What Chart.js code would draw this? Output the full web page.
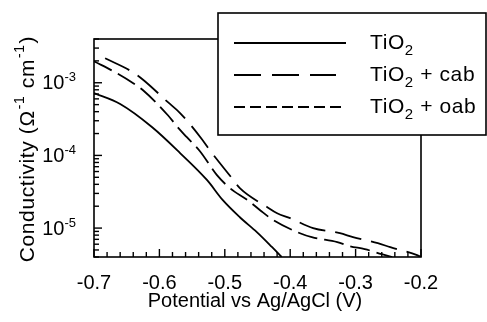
<!DOCTYPE html>
<html>
<head>
<meta charset="utf-8">
<script src="https://cdn.jsdelivr.net/npm/chart.js@4.4.1/dist/chart.umd.min.js"></script>
<style>
html,body{margin:0;padding:0;background:#fff;}
#wrap{width:487px;height:322px;position:relative;}
</style>
</head>
<body>
<div id="wrap"><canvas id="c" width="487" height="322"></canvas></div>
<script>
// ---- data (potential in V, conductivity in ohm^-1 cm^-1) ----
const seriesNames = ['TiO2', 'TiO2 + cab', 'TiO2 + oab'];

const tio2X = [-0.70, -0.66, -0.611, -0.568, -0.527, -0.503, -0.477, -0.451, -0.428, -0.413];
const tio2Y = [7.2e-4, 5.1e-4, 2.44e-4, 1.07e-4, 4.56e-5, 2.42e-5, 1.41e-5, 8.8e-6, 5.5e-6, 4.0e-6];

const cabX = [-0.683, -0.642, -0.625, -0.587, -0.568, -0.535, -0.523, -0.489, -0.477, -0.435, -0.420, -0.400, -0.365, -0.324, -0.304, -0.266, -0.247, -0.206, -0.200];
const cabY = [2.17e-3, 1.42e-3, 1.1e-3, 5.4e-4, 3.8e-4, 1.67e-4, 1.18e-4, 4.85e-5, 3.54e-5, 1.94e-5, 1.60e-5, 1.37e-5, 1.0e-5, 8.5e-6, 7.5e-6, 6.2e-6, 5.46e-6, 4.24e-6, 4.0e-6];

const oabX = [-0.700, -0.665, -0.640, -0.625, -0.587, -0.572, -0.558, -0.538, -0.512, -0.492, -0.465, -0.446, -0.426, -0.385, -0.367, -0.328, -0.309, -0.286, -0.260, -0.244];
const oabY = [1.98e-3, 1.35e-3, 9.84e-4, 7.89e-4, 3.57e-4, 2.44e-4, 1.78e-4, 1.14e-4, 5.35e-5, 3.54e-5, 2.42e-5, 1.76e-5, 1.29e-5, 8.5e-6, 7.5e-6, 6.4e-6, 5.64e-6, 5.13e-6, 4.38e-6, 4.0e-6];

const xTicks = [-0.7, -0.6, -0.5, -0.4, -0.3, -0.2];
const xTickLabels = ['-0.7', '-0.6', '-0.5', '-0.4', '-0.3', '-0.2'];
const yTickExps = [-3, -4, -5];
const xRange = [-0.7, -0.2];
const yRange = [4e-6, 4e-3];
const xTitle = 'Potential vs Ag/AgCl (V)';

function pts(xs, ys) { return xs.map((x, i) => ({x: x, y: ys[i]})); }

const FONT = '"Liberation Sans", Arial, sans-serif';

function setLS(ctx, v) { if ('letterSpacing' in ctx) ctx.letterSpacing = v; }

const decorPlugin = {
  id: 'decor',
  afterDraw(chart) {
    const ctx = chart.ctx;
    const a = chart.chartArea;
    const xs = chart.scales.x, ys = chart.scales.y;
    ctx.save();
    ctx.strokeStyle = '#000';
    ctx.fillStyle = '#000';
    // frame
    ctx.lineWidth = 1.6;
    ctx.strokeRect(a.left, a.top, a.right - a.left, a.bottom - a.top);
    // x ticks (inward)
    ctx.lineWidth = 1.4;
    const step = 0.02;
    const n = Math.round((xRange[1] - xRange[0]) / step);
    for (let i = 0; i <= n; i++) {
      const v = xRange[0] + i * step;
      const px = xs.getPixelForValue(v);
      const len = (i % 5 === 0) ? 8 : 5;
      ctx.beginPath(); ctx.moveTo(px, a.bottom); ctx.lineTo(px, a.bottom - len); ctx.stroke();
    }
    // y ticks (inward, log minor)
    for (let e = -6; e <= -2; e++) {
      for (let m = 1; m <= 9; m++) {
        const v = m * Math.pow(10, e);
        if (v < yRange[0] * 0.999 || v > yRange[1] * 1.001) continue;
        const py = ys.getPixelForValue(v);
        const len = (m === 1) ? 8 : 5;
        ctx.beginPath(); ctx.moveTo(a.left, py); ctx.lineTo(a.left + len, py); ctx.stroke();
      }
    }
    // y tick labels 10^n
    ctx.textBaseline = 'middle';
    yTickExps.forEach(e => {
      const py = ys.getPixelForValue(Math.pow(10, e));
      const supTxt = String(e);
      ctx.font = '13px ' + FONT;
      const sw = ctx.measureText(supTxt).width;
      const rightX = 76;
      ctx.textAlign = 'left';
      ctx.fillText(supTxt, rightX - sw, py - 5);
      ctx.font = '20px ' + FONT;
      const bw = ctx.measureText('10').width;
      ctx.fillText('10', rightX - sw - bw, py + 1);
    });
    // x title
    ctx.font = '20px ' + FONT;
    ctx.textAlign = 'center';
    ctx.textBaseline = 'middle';
    ctx.fillText(xTitle, 255, 301);
    // y title (rotated, with superscripts)
    ctx.save();
    ctx.translate(27, 149);
    ctx.rotate(-Math.PI / 2);
    setLS(ctx, '0.6px');
    const parts = [
      {t: 'Conductivity (\u03A9', sup: false},
      {t: '-1', sup: true},
      {t: ' cm', sup: false},
      {t: '-1', sup: true},
      {t: ')', sup: false}
    ];
    let total = 0;
    parts.forEach(p => { ctx.font = (p.sup ? '14px ' : '21px ') + FONT; p.w = ctx.measureText(p.t).width + (p.sup ? 2 : 0); total += p.w; });
    let cx = -total / 2;
    ctx.textAlign = 'left';
    parts.forEach(p => {
      ctx.font = (p.sup ? '14px ' : '21px ') + FONT;
      ctx.fillText(p.t, cx + (p.sup ? 1 : 0), p.sup ? -7 : 1);
      cx += p.w;
    });
    setLS(ctx, '0px');
    ctx.restore();
    // legend box
    const L = {x: 218, y: 13, w: 268, h: 122};
    ctx.fillStyle = '#fff';
    ctx.fillRect(L.x, L.y, L.w, L.h);
    ctx.lineWidth = 1.6;
    ctx.strokeRect(L.x, L.y, L.w, L.h);
    const rows = [43, 75, 107];
    const dashes = [[], [27, 11], [11, 5]];
    const ends = [346, 336, 344];
    ctx.lineWidth = 2;
    rows.forEach((ry, i) => {
      ctx.setLineDash(dashes[i]);
      ctx.beginPath(); ctx.moveTo(234, ry); ctx.lineTo(ends[i], ry); ctx.stroke();
    });
    ctx.setLineDash([]);
    ctx.fillStyle = '#000';
    ctx.textBaseline = 'middle';
    ctx.textAlign = 'left';
    setLS(ctx, '0.6px');
    rows.forEach((ry, i) => {
      const name = seriesNames[i];
      const head = 'TiO';
      const rest = name.slice(4);
      let tx = 370;
      ctx.font = '21px ' + FONT;
      ctx.fillText(head, tx, ry);
      tx += ctx.measureText(head).width;
      ctx.font = '15px ' + FONT;
      ctx.fillText('2', tx, ry + 8);
      tx += ctx.measureText('2').width;
      if (rest) {
        ctx.font = '21px ' + FONT;
        ctx.fillText(rest, tx, ry);
      }
    });
    setLS(ctx, '0px');
    ctx.restore();
  }
};

new Chart(document.getElementById('c'), {
  type: 'scatter',
  data: {
    datasets: [
      {label: seriesNames[0], data: pts(tio2X, tio2Y), showLine: true, borderColor: '#000', borderWidth: 1.8, pointRadius: 0, cubicInterpolationMode: 'monotone', borderDash: []},
      {label: seriesNames[1], data: pts(cabX, cabY), showLine: true, borderColor: '#000', borderWidth: 1.8, pointRadius: 0, cubicInterpolationMode: 'monotone', borderDash: [27, 10]},
      {label: seriesNames[2], data: pts(oabX, oabY), showLine: true, borderColor: '#000', borderWidth: 1.8, pointRadius: 0, cubicInterpolationMode: 'monotone', borderDash: [20, 7]}
    ]
  },
  options: {
    responsive: false,
    animation: false,
    events: [],
    layout: {padding: {top: 39, right: 66, left: 0, bottom: 0}},
    plugins: {legend: {display: false}, tooltip: {enabled: false}},
    scales: {
      x: {
        type: 'linear', min: xRange[0], max: xRange[1],
        afterBuildTicks: s => { s.ticks = xTicks.map(v => ({value: v})); },
        afterFit: s => { s.height = 65; },
        grid: {display: false, drawTicks: false},
        border: {display: false},
        ticks: {
          color: '#000', padding: 14, maxRotation: 0, autoSkip: false,
          font: {family: FONT, size: 20},
          callback: (v, i) => xTickLabels[i]
        }
      },
      y: {
        type: 'logarithmic', min: yRange[0], max: yRange[1],
        afterFit: s => { s.width = 94; },
        grid: {display: false, drawTicks: false},
        border: {display: false},
        ticks: {display: false}
      }
    }
  },
  plugins: [decorPlugin]
});
</script>
</body>
</html>
